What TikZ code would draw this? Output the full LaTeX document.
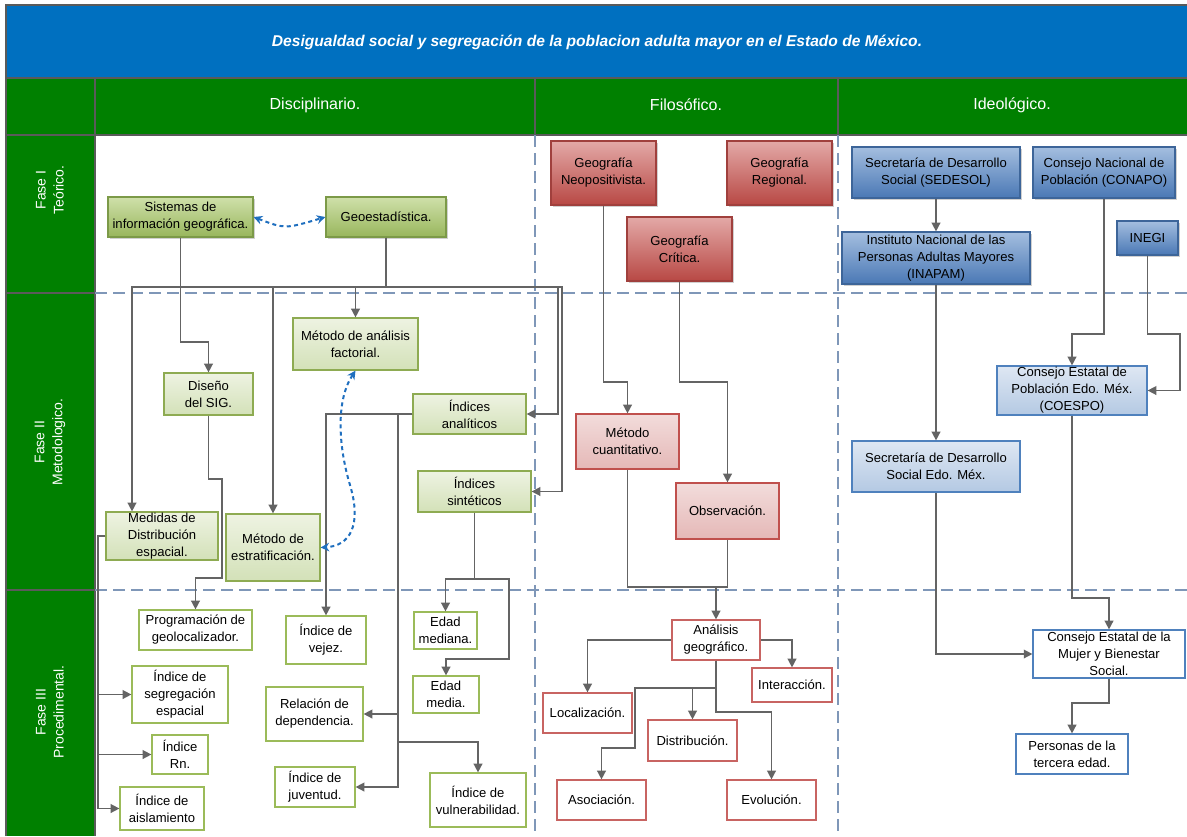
\documentclass[tikz,border=0pt]{standalone}
\usepackage{fontspec}
\setmainfont{Liberation Sans}
\usetikzlibrary{arrows.meta,shadows}
\definecolor{tblue}{HTML}{0070C0}
\definecolor{hgreen}{HTML}{008000}
\definecolor{sepc}{HTML}{5A5A5A}
\definecolor{dashc}{HTML}{7F97B8}
\definecolor{connc}{HTML}{646464}
\definecolor{dotc}{HTML}{1F6FBF}
\definecolor{gDt}{HTML}{CFE0AA}\definecolor{gDb}{HTML}{98B65C}\definecolor{gDd}{HTML}{7C9A48}
\definecolor{gLt}{HTML}{EEF3E2}\definecolor{gLb}{HTML}{D3E1B8}\definecolor{gLd}{HTML}{8EAB52}
\definecolor{gOd}{HTML}{9BBB59}
\definecolor{rDt}{HTML}{E3A9A7}\definecolor{rDb}{HTML}{B84844}\definecolor{rDd}{HTML}{A0403D}
\definecolor{rLt}{HTML}{F2DCDB}\definecolor{rLb}{HTML}{E5B8B7}\definecolor{rLd}{HTML}{C0504D}
\definecolor{rOd}{HTML}{C86462}
\definecolor{bDt}{HTML}{A4BEDF}\definecolor{bDb}{HTML}{4A78B5}\definecolor{bDd}{HTML}{3D6599}
\definecolor{bLt}{HTML}{DEE7F3}\definecolor{bLb}{HTML}{B4C9E3}\definecolor{bLd}{HTML}{4F81BD}
\newcommand\bx[7]{\node[#2, minimum width={(#5-#3)*0.75pt}, minimum height={(#6-#4)*0.75pt}] (#1) at ({(#3+#5)/2},{(#4+#6)/2}) {#7};}
\begin{document}
\begin{tikzpicture}[x=0.75pt,y=-0.75pt,
  box/.style={draw, rectangle, inner sep=0pt, align=center, line width=0.9pt, text=black,
    font=\fontsize{9.8}{12.75}\selectfont},
  shd/.style={drop shadow={shadow xshift=1.6pt, shadow yshift=-1.6pt, opacity=0.3, fill=black!60}},
  gD/.style={box, draw=gDd, top color=gDt, bottom color=gDb, shd},
  gL/.style={box, draw=gLd, top color=gLt, bottom color=gLb},
  gO/.style={box, draw=gOd, fill=white},
  rD/.style={box, draw=rDd, top color=rDt, bottom color=rDb, shd},
  rL/.style={box, draw=rLd, top color=rLt, bottom color=rLb},
  rO/.style={box, draw=rOd, fill=white},
  bD/.style={box, draw=bDd, top color=bDt, bottom color=bDb, shd},
  bL/.style={box, draw=bLd, top color=bLt, bottom color=bLb},
  bO/.style={box, draw=bLd, fill=white},
  ln/.style={draw=connc, line width=1.1pt},
  arr/.style={ln, -{Triangle[length=6.5pt,width=6.5pt]}},
  dotarr/.style={draw=dotc, line width=1.5pt, dash pattern=on 3pt off 2.5pt,
    {Stealth[length=6.5pt,width=6.5pt]}-{Stealth[length=6.5pt,width=6.5pt]}},
  dashln/.style={draw=dashc, line width=1.1pt, dash pattern=on 9pt off 4.5pt},
  seps/.style={draw=sepc, line width=0.8pt},
  hdr/.style={text=white, font=\fontsize{12}{14}\selectfont},
  fase/.style={text=white, rotate=90, align=center, font=\fontsize{10.5}{13.5}\selectfont}]
\useasboundingbox (0,0) rectangle (1187,836);
\fill[white] (0,0) rectangle (1187,836);
% bands
\fill[tblue] (6,5) rectangle (1187,78);
\fill[hgreen] (6,78) rectangle (1187,135);
\fill[hgreen] (6,135) rectangle (95,836);
\draw[seps] (6,836) -- (6,5) -- (1187,5);
\draw[seps] (6,78) -- (1187,78);
\draw[seps] (6,135) -- (1187,135);
\draw[seps] (95,78) -- (95,836);
\draw[seps] (535,78) -- (535,135);
\draw[seps] (838,78) -- (838,135);
\draw[seps] (6,293) -- (95,293);
\draw[seps] (6,590) -- (95,590);
% grid
\draw[dashln] (95,293) -- (1187,293);
\draw[dashln] (95,590) -- (1187,590);
\draw[dashln] (535,135) -- (535,836);
\draw[dashln] (838,135) -- (838,836);
% headings
\node[text=white, font=\fontsize{11.7}{14}\selectfont\bfseries\itshape] (title) at (597,42) {Desigualdad social y segregación de la poblacion adulta mayor en el Estado de México.};
\node[hdr] (hdis) at (315,105) {Disciplinario.};
\node[hdr] (hfil) at (686,105) {Filosófico.};
\node[hdr] (hide) at (1012,105) {Ideológico.};
\node[fase] (f1) at (50,190) {Fase I\\Teórico.};
\node[fase] (f2) at (50,442) {Fase II\\Metodologico.};
\node[fase] (f3) at (50,712) {Fase III\\Procedimental.};
% green nodes
\bx{sig}{gD}{108}{197}{253}{237}{Sistemas de\\información geográfica.}
\bx{geo}{gD}{326}{197}{446}{237}{Geoestadística.}
\bx{dsig}{gL}{164}{373}{253}{415}{Diseño\\del SIG.}
\bx{maf}{gL}{293}{318}{418}{370}{Método de análisis\\factorial.}
\bx{ian}{gL}{413}{394}{526}{434}{Índices\\analíticos}
\bx{isi}{gL}{418}{471}{531}{512}{Índices\\sintéticos}
\bx{mde}{gL}{106}{512}{218}{560}{Medidas de\\Distribución\\espacial.}
\bx{mes}{gL}{226}{514}{320}{581}{Método de\\estratificación.}
\bx{prog}{gO}{139}{610}{252}{650}{Programación de\\geolocalizador.}
\bx{iseg}{gO}{132}{666}{228}{723}{Índice de\\segregación\\espacial}
\bx{irn}{gO}{152}{735}{208}{774}{Índice\\Rn.}
\bx{iais}{gO}{120}{787}{204}{830}{Índice de\\aislamiento}
\bx{ivej}{gO}{286}{616}{366}{664}{Índice de\\vejez.}
\bx{rdep}{gO}{266}{687}{363}{741}{Relación de\\dependencia.}
\bx{ijuv}{gO}{275}{767}{355}{807}{Índice de\\juventud.}
\bx{ivul}{gO}{430}{773}{526}{827}{Índice de\\vulnerabilidad.}
\bx{emed}{gO}{414}{612}{477}{649}{Edad\\mediana.}
\bx{emedia}{gO}{413}{676}{479}{713}{Edad\\media.}
% red nodes
\bx{gneo}{rD}{551}{141}{656}{205}{Geografía\\Neopositivista.}
\bx{greg}{rD}{727}{141}{832}{205}{Geografía\\Regional.}
\bx{gcri}{rD}{627}{217}{732}{281}{Geografía\\Crítica.}
\bx{mcu}{rL}{576}{414}{679}{469}{Método\\cuantitativo.}
\bx{obs}{rL}{676}{483}{779}{539}{Observación.}
\bx{anal}{rO}{672}{620}{760}{660}{Análisis\\geográfico.}
\bx{loc}{rO}{543}{693}{632}{733}{Localización.}
\bx{inter}{rO}{752}{668}{832}{702}{Interacción.}
\bx{dist}{rO}{648}{720}{737}{761}{Distribución.}
\bx{asoc}{rO}{557}{780}{646}{820}{Asociación.}
\bx{evol}{rO}{727}{780}{816}{820}{Evolución.}
% blue nodes
\bx{sedesol}{bD}{852}{147}{1020}{198}{Secretaría de Desarrollo\\Social (SEDESOL)}
\bx{conapo}{bD}{1033}{147}{1175}{198}{Consejo Nacional de\\Población (CONAPO)}
\bx{inapam}{bD}{842}{232}{1030}{284}{Instituto Nacional de las\\Personas Adultas Mayores\\(INAPAM)}
\bx{inegi}{bD}{1117}{221}{1178}{255}{INEGI}
\bx{coespo}{bL}{997}{366}{1147}{415}{Consejo Estatal de\\Población Edo. Méx.\\(COESPO)}
\bx{sedem}{bL}{852}{441}{1020}{492}{Secretaría de Desarrollo\\Social Edo. Méx.}
\bx{mujer}{bO}{1033}{630}{1185}{678}{Consejo Estatal de la\\Mujer y Bienestar\\Social.}
\bx{pers}{bO}{1016}{734}{1128}{774}{Personas de la\\tercera edad.}
% green connectors
\draw[arr] (sig.south) -- (180.5,342) -| (dsig.north);
\draw[arr] (geo.south) -- (386,287) -| (maf.north);
\draw[arr] (geo.south) -- (386,287) -| (mes.north);
\draw[arr] (geo.south) -- (386,287) -| (mde.north -| 132,0);
\draw[arr] (geo.south) -- (386,287) -| (558,414) -- (ian.east);
\draw[arr] (geo.south) -- (386,287) -| (562,491.5) -- (isi.east);
\draw[arr] (dsig.south) -- (208.5,479) -| (222,578) -| (prog.north);
\draw[arr] (mde.west) -- (98,536) |- (iseg.west);
\draw[arr] (mde.west) -- (98,536) |- (irn.west);
\draw[arr] (mde.west) -- (98,536) |- (iais.west);
\draw[arr] (ian.west) -| (ivej.north);
\draw[arr] (ian.west) -| (398,714) -- (rdep.east);
\draw[arr] (ian.west) -| (398,787) -- (ijuv.east);
\draw[arr] (ian.west) -| (398,742) -| (ivul.north);
\draw[arr] (isi.south) -- (474.5,579) -| (emed.north);
\draw[arr] (isi.south) -- (474.5,579) -| (509,659) -| (emedia.north);
\draw[dotarr] (sig.east) .. controls (285,229) .. (geo.west);
\draw[dotarr] (maf.south) .. controls (336,400) and (338,445) .. (350,485) .. controls (362,525) and (350,546) .. (mes.east);
% red connectors
\draw[arr] (gneo.south) -- (603.5,382) -| (mcu.north);
\draw[arr] (gcri.south) -- (679.5,382) -| (obs.north);
\draw[ln] (mcu.south) -- (627.5,587) -- (727.5,587) -- (obs.south);
\draw[arr] (anal.north |- 0,587) -- (anal.north);
\draw[arr] (anal.west) -| (loc.north);
\draw[arr] (anal.east) -| (inter.north);
\draw[arr] (anal.south) -- (716,688) -| (dist.north);
\draw[arr] (anal.south) -- (716,688) -| (635,748) -| (asoc.north);
\draw[arr] (anal.south) |- (771.5,712) -- (evol.north);
% blue connectors
\draw[arr] (sedesol.south) -- (inapam.north);
\draw[arr] (inapam.south) -- (sedem.north);
\draw[arr] (conapo.south) -- (1104,334) -| (coespo.north);
\draw[arr] (inegi.south) -- (1147.5,334) -| (1180,390.5) -- (coespo.east);
\draw[arr] (coespo.south) -- (1072,598) -| (mujer.north);
\draw[arr] (sedem.south) |- (mujer.west);
\draw[arr] (mujer.south) -- (1109,703) -| (pers.north);
\end{tikzpicture}
\end{document}
